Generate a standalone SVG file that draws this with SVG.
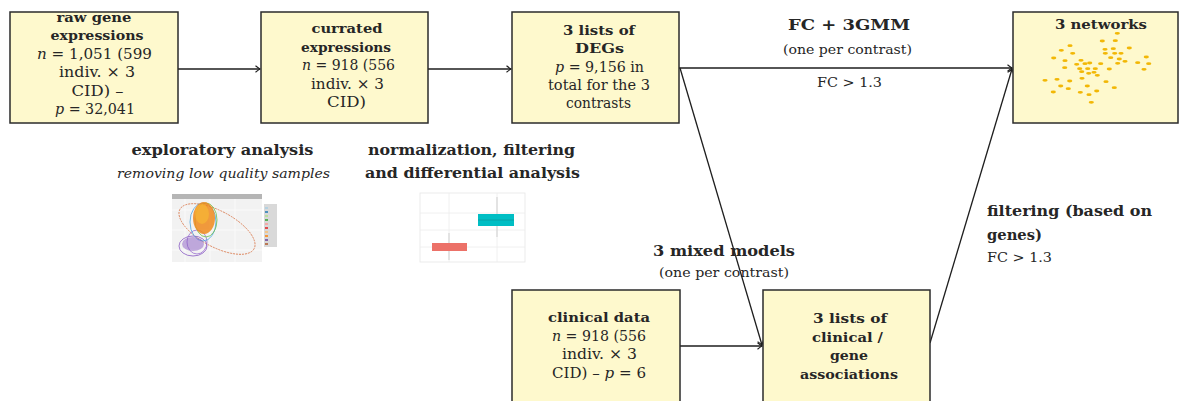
<svg xmlns="http://www.w3.org/2000/svg" width="1180" height="401" viewBox="0 0 1180 401">
<style>
.box{fill:#fef9cd;stroke:#2b2b2b;stroke-width:1.5}
text{font-family:"DejaVu Serif","Liberation Serif",serif;fill:#262626;text-anchor:middle}
.b{font-weight:bold;font-size:13.5px}
.r{font-size:14px}
.lb{font-weight:bold;font-size:15px}
.ls{font-size:12.5px}
.it{font-style:italic}
.left{text-anchor:start}
.edge{stroke:#1e1e1e;stroke-width:1.3;fill:none;marker-end:url(#tip)}
.dot{fill:#f2b705}
</style>
<defs>
<marker id="tip" markerUnits="userSpaceOnUse" markerWidth="10" markerHeight="10" viewBox="-6 -5 8 10" refX="0" refY="0" orient="auto">
<path d="M-4.5,-3.2 Q-1.2,-0.6 0,0 Q-1.2,0.6 -4.5,3.2" fill="none" stroke="#1e1e1e" stroke-width="1.1"/>
</marker>
</defs>

<g id="connectors">
<line class="edge" x1="178" y1="69" x2="260" y2="69"/>
<line class="edge" x1="428" y1="69" x2="511" y2="69"/>
<line class="edge" x1="679" y1="68" x2="1012" y2="68"/>
<line class="edge" x1="680" y1="68" x2="762" y2="345"/>
<line class="edge" x1="680" y1="346" x2="762" y2="346"/>
<line class="edge" x1="930" y1="343" x2="1012" y2="69"/>
</g>

<g id="raw">
<rect class="box" x="10" y="12" width="168" height="111"/>
<text class="b" x="94" y="22" textLength="75" lengthAdjust="spacingAndGlyphs">raw gene</text>
<text class="b" x="97" y="40" textLength="93" lengthAdjust="spacingAndGlyphs">expressions</text>
<text class="r" x="94.5" y="58.5" textLength="115" lengthAdjust="spacingAndGlyphs"><tspan class="it">n</tspan> = 1,051 (599</text>
<text class="r" x="97" y="77" textLength="76" lengthAdjust="spacingAndGlyphs">indiv. × 3</text>
<text class="r" x="97.5" y="95.5" textLength="52" lengthAdjust="spacingAndGlyphs">CID) –</text>
<text class="r" x="95" y="114" textLength="80" lengthAdjust="spacingAndGlyphs"><tspan class="it">p</tspan> = 32,041</text>
</g>

<g id="curated">
<rect class="box" x="261" y="12" width="167" height="111"/>
<text class="b" x="347" y="33" textLength="71" lengthAdjust="spacingAndGlyphs">currated</text>
<text class="b" x="346" y="51.5" textLength="90" lengthAdjust="spacingAndGlyphs">expressions</text>
<text class="r" x="348.5" y="70" textLength="93" lengthAdjust="spacingAndGlyphs"><tspan class="it">n</tspan> = 918 (556</text>
<text class="r" x="347.5" y="88.5" textLength="73" lengthAdjust="spacingAndGlyphs">indiv. × 3</text>
<text class="r" x="346.5" y="107" textLength="39" lengthAdjust="spacingAndGlyphs">CID)</text>
</g>

<g id="degs">
<rect class="box" x="512" y="12" width="167" height="111"/>
<text class="b" x="599" y="35" textLength="72" lengthAdjust="spacingAndGlyphs">3 lists of</text>
<text class="b" x="599.5" y="53" textLength="49" lengthAdjust="spacingAndGlyphs">DEGs</text>
<text class="r" x="599.5" y="71.5" textLength="89" lengthAdjust="spacingAndGlyphs"><tspan class="it">p</tspan> = 9,156 in</text>
<text class="r" x="599" y="90" textLength="102" lengthAdjust="spacingAndGlyphs">total for the 3</text>
<text class="r" x="598.5" y="108" textLength="65" lengthAdjust="spacingAndGlyphs">contrasts</text>
</g>

<g id="networks">
<rect class="box" x="1013" y="12" width="165" height="111"/>
<text class="b" x="1101" y="29" textLength="92" lengthAdjust="spacingAndGlyphs">3 networks</text>
<g>
<ellipse class="dot" cx="1117.3" cy="33.3" rx="2.6" ry="1.4"/>
<ellipse class="dot" cx="1102.3" cy="41" rx="2.6" ry="1.4"/>
<ellipse class="dot" cx="1115.3" cy="40.7" rx="2.6" ry="1.4"/>
<ellipse class="dot" cx="1070" cy="45.7" rx="2.6" ry="1.4"/>
<ellipse class="dot" cx="1061.3" cy="50.3" rx="2.6" ry="1.4"/>
<ellipse class="dot" cx="1105" cy="49.3" rx="2.6" ry="1.4"/>
<ellipse class="dot" cx="1113.3" cy="48.7" rx="2.6" ry="1.4"/>
<ellipse class="dot" cx="1129.3" cy="48" rx="2.6" ry="1.4"/>
<ellipse class="dot" cx="1072.7" cy="53.3" rx="2.6" ry="1.4"/>
<ellipse class="dot" cx="1105.3" cy="53.3" rx="2.6" ry="1.4"/>
<ellipse class="dot" cx="1114.7" cy="53.3" rx="2.6" ry="1.4"/>
<ellipse class="dot" cx="1121" cy="53.3" rx="2.6" ry="1.4"/>
<ellipse class="dot" cx="1053.7" cy="58" rx="2.6" ry="1.4"/>
<ellipse class="dot" cx="1110.7" cy="57.7" rx="2.6" ry="1.4"/>
<ellipse class="dot" cx="1119.3" cy="59" rx="2.6" ry="1.4"/>
<ellipse class="dot" cx="1146.3" cy="57" rx="2.6" ry="1.4"/>
<ellipse class="dot" cx="1065" cy="60.7" rx="2.6" ry="1.4"/>
<ellipse class="dot" cx="1081" cy="60.3" rx="2.6" ry="1.4"/>
<ellipse class="dot" cx="1125" cy="61.3" rx="2.6" ry="1.4"/>
<ellipse class="dot" cx="1137.7" cy="62.7" rx="2.6" ry="1.4"/>
<ellipse class="dot" cx="1148.7" cy="63.7" rx="2.6" ry="1.4"/>
<ellipse class="dot" cx="1076.7" cy="64.3" rx="2.6" ry="1.4"/>
<ellipse class="dot" cx="1085" cy="63.7" rx="2.6" ry="1.4"/>
<ellipse class="dot" cx="1089.7" cy="63" rx="2.6" ry="1.4"/>
<ellipse class="dot" cx="1100.7" cy="63.7" rx="2.6" ry="1.4"/>
<ellipse class="dot" cx="1117.7" cy="63.3" rx="2.6" ry="1.4"/>
<ellipse class="dot" cx="1064.7" cy="67.7" rx="2.6" ry="1.4"/>
<ellipse class="dot" cx="1079.7" cy="68.7" rx="2.6" ry="1.4"/>
<ellipse class="dot" cx="1087.7" cy="68.7" rx="2.6" ry="1.4"/>
<ellipse class="dot" cx="1095.3" cy="68.7" rx="2.6" ry="1.4"/>
<ellipse class="dot" cx="1109.3" cy="69" rx="2.6" ry="1.4"/>
<ellipse class="dot" cx="1144" cy="69.3" rx="2.6" ry="1.4"/>
<ellipse class="dot" cx="1081.7" cy="71.7" rx="2.6" ry="1.4"/>
<ellipse class="dot" cx="1088.7" cy="73.3" rx="2.6" ry="1.4"/>
<ellipse class="dot" cx="1094" cy="72.3" rx="2.6" ry="1.4"/>
<ellipse class="dot" cx="1097.3" cy="75.3" rx="2.6" ry="1.4"/>
<ellipse class="dot" cx="1045" cy="80.3" rx="2.6" ry="1.4"/>
<ellipse class="dot" cx="1057" cy="79.3" rx="2.6" ry="1.4"/>
<ellipse class="dot" cx="1069.7" cy="81" rx="2.6" ry="1.4"/>
<ellipse class="dot" cx="1082" cy="78.3" rx="2.6" ry="1.4"/>
<ellipse class="dot" cx="1106" cy="81.7" rx="2.6" ry="1.4"/>
<ellipse class="dot" cx="1060.7" cy="86" rx="2.6" ry="1.4"/>
<ellipse class="dot" cx="1068.3" cy="88.7" rx="2.6" ry="1.4"/>
<ellipse class="dot" cx="1087.3" cy="86" rx="2.6" ry="1.4"/>
<ellipse class="dot" cx="1114.3" cy="87.7" rx="2.6" ry="1.4"/>
<ellipse class="dot" cx="1053.3" cy="92" rx="2.6" ry="1.4"/>
<ellipse class="dot" cx="1080.3" cy="92.3" rx="2.6" ry="1.4"/>
<ellipse class="dot" cx="1096.7" cy="91" rx="2.6" ry="1.4"/>
<ellipse class="dot" cx="1089" cy="94.7" rx="2.6" ry="1.4"/>
<ellipse class="dot" cx="1091.3" cy="102.3" rx="2.6" ry="1.4"/>
</g>
</g>

<g id="clinical">
<rect class="box" x="512" y="290" width="168" height="130"/>
<text class="b" x="599" y="322" textLength="102" lengthAdjust="spacingAndGlyphs">clinical data</text>
<text class="r" x="599" y="340.5" textLength="94" lengthAdjust="spacingAndGlyphs"><tspan class="it">n</tspan> = 918 (556</text>
<text class="r" x="599.5" y="359" textLength="75" lengthAdjust="spacingAndGlyphs">indiv. × 3</text>
<text class="r" x="599" y="377.5" textLength="94" lengthAdjust="spacingAndGlyphs">CID) – <tspan class="it">p</tspan> = 6</text>
</g>

<g id="associations">
<rect class="box" x="763" y="290" width="167" height="130"/>
<text class="b" x="850" y="323" textLength="74" lengthAdjust="spacingAndGlyphs">3 lists of</text>
<text class="b" x="847.5" y="341.5" textLength="71" lengthAdjust="spacingAndGlyphs">clinical /</text>
<text class="b" x="849" y="360" textLength="38" lengthAdjust="spacingAndGlyphs">gene</text>
<text class="b" x="849" y="378.5" textLength="98" lengthAdjust="spacingAndGlyphs">associations</text>
</g>

<g id="labels">
<text class="lb" x="849" y="30" textLength="122" lengthAdjust="spacingAndGlyphs">FC + 3GMM</text>
<text class="ls" x="847.5" y="54" textLength="129" lengthAdjust="spacingAndGlyphs">(one per contrast)</text>
<text class="ls" x="849.5" y="87" textLength="65" lengthAdjust="spacingAndGlyphs">FC &gt; 1.3</text>
<text class="lb" x="724" y="256" textLength="142" lengthAdjust="spacingAndGlyphs">3 mixed models</text>
<text class="ls" x="724" y="277" textLength="130" lengthAdjust="spacingAndGlyphs">(one per contrast)</text>
<text class="lb left" x="987" y="216" textLength="165" lengthAdjust="spacingAndGlyphs">filtering (based on</text>
<text class="lb left" x="987" y="240" textLength="55" lengthAdjust="spacingAndGlyphs">genes)</text>
<text class="ls left" x="987" y="262" textLength="65" lengthAdjust="spacingAndGlyphs">FC &gt; 1.3</text>
<text class="lb" x="222.5" y="155" textLength="182" lengthAdjust="spacingAndGlyphs">exploratory analysis</text>
<text class="ls it" x="223.5" y="178" textLength="213" lengthAdjust="spacingAndGlyphs">removing low quality samples</text>
<text class="lb" x="471.5" y="155" textLength="207" lengthAdjust="spacingAndGlyphs">normalization, filtering</text>
<text class="lb" x="472.5" y="178" textLength="215" lengthAdjust="spacingAndGlyphs">and differential analysis</text>
</g>

<g id="scatter-plot">
<rect x="172" y="194" width="90" height="5" fill="#b5b5b5"/>
<rect x="172" y="199" width="90" height="63" fill="#f2f2f2"/>
<g stroke="#ffffff" stroke-width="0.6">
<line x1="172" y1="210" x2="262" y2="210"/><line x1="172" y1="230" x2="262" y2="230"/><line x1="172" y1="250" x2="262" y2="250"/>
<line x1="185" y1="199" x2="185" y2="262"/><line x1="210" y1="199" x2="210" y2="262"/><line x1="235" y1="199" x2="235" y2="262"/>
</g>
<g fill="none" stroke-width="0.8">
<ellipse cx="217" cy="229" rx="42" ry="18" transform="rotate(28 217 229)" stroke="#d9774a" stroke-dasharray="2 1"/>
<ellipse cx="193" cy="246" rx="14" ry="10" stroke="#8a5cc4"/>
<ellipse cx="197" cy="242" rx="10" ry="12" stroke="#9b6fd0"/>
<ellipse cx="203" cy="222" rx="13" ry="19" stroke="#4aa3df"/>
<ellipse cx="206" cy="220" rx="11" ry="17" stroke="#6cc04a"/>
</g>
<ellipse cx="193" cy="244" rx="11" ry="7" fill="#8a5cc4" opacity="0.5"/>
<ellipse cx="204" cy="218" rx="11" ry="16" fill="#f08a1c" opacity="0.85"/>
<ellipse cx="202" cy="214" rx="7" ry="10" fill="#f7b733" opacity="0.7"/>
<g fill="#d9d9d9"><rect x="264" y="204" width="13" height="43"/></g>
<g stroke-width="1.5">
<line x1="265" y1="208" x2="268" y2="208" stroke="#a6cee3"/>
<line x1="265" y1="212" x2="268" y2="212" stroke="#1f78b4"/>
<line x1="265" y1="216" x2="268" y2="216" stroke="#b2df8a"/>
<line x1="265" y1="220" x2="268" y2="220" stroke="#33a02c"/>
<line x1="265" y1="224" x2="268" y2="224" stroke="#fb9a99"/>
<line x1="265" y1="228" x2="268" y2="228" stroke="#e31a1c"/>
<line x1="265" y1="232" x2="268" y2="232" stroke="#fdbf6f"/>
<line x1="265" y1="236" x2="268" y2="236" stroke="#ff7f00"/>
<line x1="265" y1="240" x2="268" y2="240" stroke="#6a3d9a"/>
<line x1="265" y1="244" x2="268" y2="244" stroke="#b15928"/>
</g>
</g>

<g id="box-plot">
<rect x="420" y="193" width="105" height="69" fill="#ffffff" stroke="#e6e6e6" stroke-width="0.8"/>
<g stroke="#ececec" stroke-width="0.8">
<line x1="420" y1="213" x2="525" y2="213"/><line x1="420" y1="230" x2="525" y2="230"/><line x1="420" y1="247" x2="525" y2="247"/>
<line x1="449" y1="193" x2="449" y2="262"/><line x1="497" y1="193" x2="497" y2="262"/>
</g>
<line x1="449" y1="233" x2="449" y2="260" stroke="#cfcfcf" stroke-width="1"/>
<line x1="497" y1="197" x2="497" y2="237" stroke="#cfcfcf" stroke-width="1"/>
<rect x="432" y="243" width="35" height="8" fill="#ec7168"/>
<rect x="478" y="214" width="36" height="12" fill="#00bec4"/>
<line x1="478" y1="220" x2="514" y2="220" stroke="#0a9aa0" stroke-width="0.8"/>
</g>
</svg>
